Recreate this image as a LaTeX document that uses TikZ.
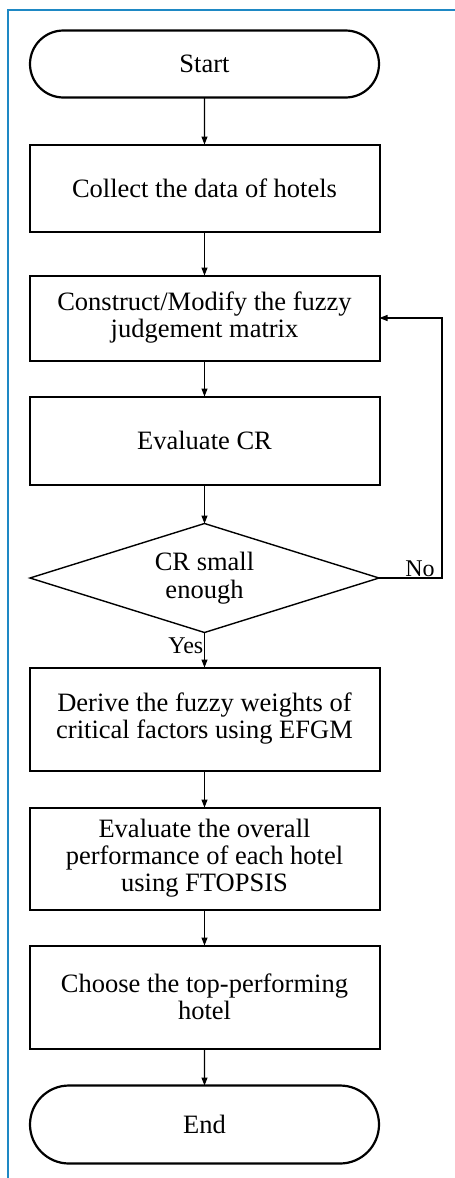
\documentclass[tikz,border=0pt]{standalone}
\usepackage{fontspec}
\setmainfont{Liberation Serif}
\usepackage{tikz}
\usetikzlibrary{shapes.geometric, shapes.misc, arrows.meta, positioning}
\definecolor{framecolor}{RGB}{30,136,196}
\tikzset{
    termbox/.style={rounded rectangle, minimum width=349pt, inner sep=0pt, outer sep=0pt,
        draw=black, line width=2.2pt, font=\fontsize{26.5}{27}\selectfont},
    flowbox/.style={rectangle, minimum width=350pt, inner sep=0pt, outer sep=0pt, align=center,
        draw=black, line width=2pt, font=\fontsize{26.5}{27}\selectfont},
    decision/.style={diamond, minimum width=349pt, minimum height=109pt, aspect=3.2,
        inner sep=0pt, outer sep=0pt, align=center, draw=black, line width=1.4pt,
        font=\fontsize{26.5}{28}\selectfont},
    flowarrow/.style={-{Stealth[length=8pt, width=6pt, inset=0pt]}, line width=1.2pt, black},
    answer/.style={font=\fontsize{24}{24}\selectfont, inner sep=1pt},
}

\begin{document}
\begin{tikzpicture}[x=1pt, y=1pt]
    \useasboundingbox (0,0) rectangle (455,-1178);
    % blue frame on top and left
    \draw[framecolor, line width=2pt] (7.5,-1178) -- (7.5,-10) -- (455,-10);

    % main flow, top to bottom
    \node[termbox, minimum height=67pt] (start) at (204.5,-64) {Start};
    \node[flowbox, minimum height=87pt, below=47pt of start] (collect) {Collect the data of hotels};
    \node[flowbox, minimum height=85pt, below=44pt of collect] (construct)
        {Construct/Modify the fuzzy\\judgement matrix};
    \node[flowbox, minimum height=88pt, below=36pt of construct] (evalcr) {Evaluate CR};
    \node[decision, below=39pt of evalcr] (check) {CR small\\enough};
    \node[flowbox, minimum height=103pt, below=35pt of check] (derive)
        {Derive the fuzzy weights of\\critical factors using EFGM};
    \node[flowbox, minimum height=102pt, below=37pt of derive] (evaloverall)
        {Evaluate the overall\\performance of each hotel\\using FTOPSIS};
    \node[flowbox, minimum height=103pt, below=36pt of evaloverall] (choose)
        {Choose the top-performing\\hotel};
    \node[termbox, minimum height=78pt, below=37pt of choose] (end) {End};

    % connectors
    \draw[flowarrow] (start) -- (collect);
    \draw[flowarrow] (collect) -- (construct);
    \draw[flowarrow] (construct) -- (evalcr);
    \draw[flowarrow] (evalcr) -- (check);
    \draw[flowarrow] (check) -- (derive);
    \draw[flowarrow] (derive) -- (evaloverall);
    \draw[flowarrow] (evaloverall) -- (choose);
    \draw[flowarrow] (choose) -- (end);

    % loop back when CR is too large
    \coordinate[right=63pt of check.east] (loop);
    \draw[flowarrow] (check.east) -- node[answer, above, pos=0.65] {No} (loop) |- (construct.east);
    \node[answer, anchor=north east, yshift=-4pt] (yes) at (check.south) {Yes};
\end{tikzpicture}
\end{document}
